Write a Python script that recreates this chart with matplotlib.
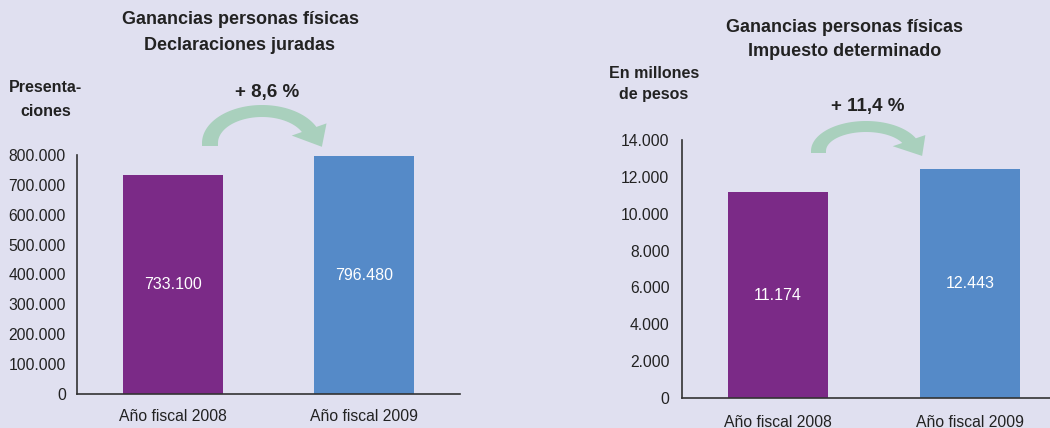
import matplotlib
matplotlib.use("Agg")
import matplotlib.pyplot as plt
from matplotlib.patches import Polygon
import numpy as np

# datos
categorias = ["Año fiscal 2008", "Año fiscal 2009"]
presentaciones = [733100, 796480]
impuesto = [11174, 12443]
var_presentaciones = "+ 8,6 %"
var_impuesto = "+ 11,4 %"
colores = ["#7b2a87", "#558ac8"]

fondo = "#e0e0f0"
verde = "#a9d0bd"
W, H = 1050, 428

plt.rcParams["font.family"] = ["Liberation Sans", "DejaVu Sans"]


def miles(v):
    return "{:,.0f}".format(v).replace(",", ".")


def px(x, y):
    # pixeles -> fraccion de figura
    return (x / W, 1 - y / H)


def flecha(fig, cx, cy, rxo, ryo, rxi, ryi, yb, ang_fin=25):
    t = np.radians(np.linspace(180, ang_fin, 60))
    ext = [(cx + rxo * np.cos(a), cy - ryo * np.sin(a)) for a in t]
    inn = [(cx + rxi * np.cos(a), cy - ryi * np.sin(a)) for a in t[::-1]]
    a = np.radians(ang_fin)
    po = np.array([cx + rxo * np.cos(a), cy - ryo * np.sin(a)])
    pi = np.array([cx + rxi * np.cos(a), cy - ryi * np.sin(a)])
    d = np.array([rxo * np.sin(a), ryo * np.cos(a)])
    d = d / np.linalg.norm(d)
    mid = (po + pi) / 2
    lado = po - pi
    w1 = po + lado * 0.7
    w2 = pi - lado * 0.7
    punta = mid + d * (np.linalg.norm(lado) * 1.4)
    pts = [(cx - rxo, yb)] + ext + [tuple(w1), tuple(punta), tuple(w2)] + inn + [(cx - rxi, yb)]
    pts = [px(x, y) for x, y in pts]
    fig.patches.append(Polygon(pts, closed=True, transform=fig.transFigure,
                               facecolor=verde, edgecolor="none"))


def grafico(ax, valores, ymax, paso):
    x = np.arange(len(categorias))
    ax.bar(x, valores, width=0.52, color=colores)
    for xi, v in zip(x, valores):
        ax.text(xi, v / 2, miles(v), ha="center", va="center", color="white", fontsize=11.5)
    ax.set_xlim(-0.5, 1.5)
    ax.set_ylim(0, ymax)
    ax.set_yticks(np.arange(0, ymax + 1, paso))
    ax.set_yticklabels([miles(v) for v in np.arange(0, ymax + 1, paso)])
    ax.set_xticks(x)
    ax.set_xticklabels(categorias)
    ax.set_facecolor(fondo)
    for s in ["top", "right"]:
        ax.spines[s].set_visible(False)
    for s in ["left", "bottom"]:
        ax.spines[s].set_color("#333333")
        ax.spines[s].set_linewidth(1.2)
    ax.tick_params(axis="both", length=0, labelsize=11.3, colors="#222222")


fig = plt.figure(figsize=(10.5, 4.28), dpi=100, facecolor=fondo)

ax1 = fig.add_axes([77 / W, 1 - 394 / H, (460 - 77) / W, (394 - 155) / H])
grafico(ax1, presentaciones, 800000, 100000)
ax1.tick_params(axis="y", pad=8)
ax1.tick_params(axis="x", pad=11)

ax2 = fig.add_axes([682 / W, 1 - 398 / H, (1066 - 682) / W, (398 - 140) / H])
grafico(ax2, impuesto, 14000, 2000)
ax2.tick_params(axis="y", pad=9)
ax2.tick_params(axis="x", pad=12)

# titulos
tit = dict(ha="center", va="center", fontsize=13, fontweight="bold", color="#222222")
fig.text(*px(240, 20), "Ganancias personas físicas", **tit)
fig.text(*px(240, 45), "Declaraciones juradas", **tit)
fig.text(*px(845, 27), "Ganancias personas físicas", **tit)
fig.text(*px(845, 51), "Impuesto determinado", **tit)

# unidades
fig.text(*px(46, 88), "Presenta-", ha="center", va="center",
         fontsize=11.5, fontweight="bold", color="#222222")
fig.text(*px(46, 111), "ciones", ha="center", va="center",
         fontsize=11.5, fontweight="bold", color="#222222")
fig.text(*px(654, 74), "En millones", ha="center", va="center",
         fontsize=11.5, fontweight="bold", color="#222222")
fig.text(*px(654, 95), "de pesos", ha="center", va="center",
         fontsize=11.5, fontweight="bold", color="#222222")

# variaciones
fig.text(*px(267, 92), var_presentaciones, ha="center", va="center",
         fontsize=13.5, fontweight="bold", color="#222222")
fig.text(*px(868, 107), var_impuesto, ha="center", va="center",
         fontsize=13.5, fontweight="bold", color="#222222")

flecha(fig, 262, 143, 60, 38, 44, 26, 146)
flecha(fig, 866, 151, 55, 30, 40, 19, 153)

fig.savefig("out.png", dpi=100, facecolor=fondo)
